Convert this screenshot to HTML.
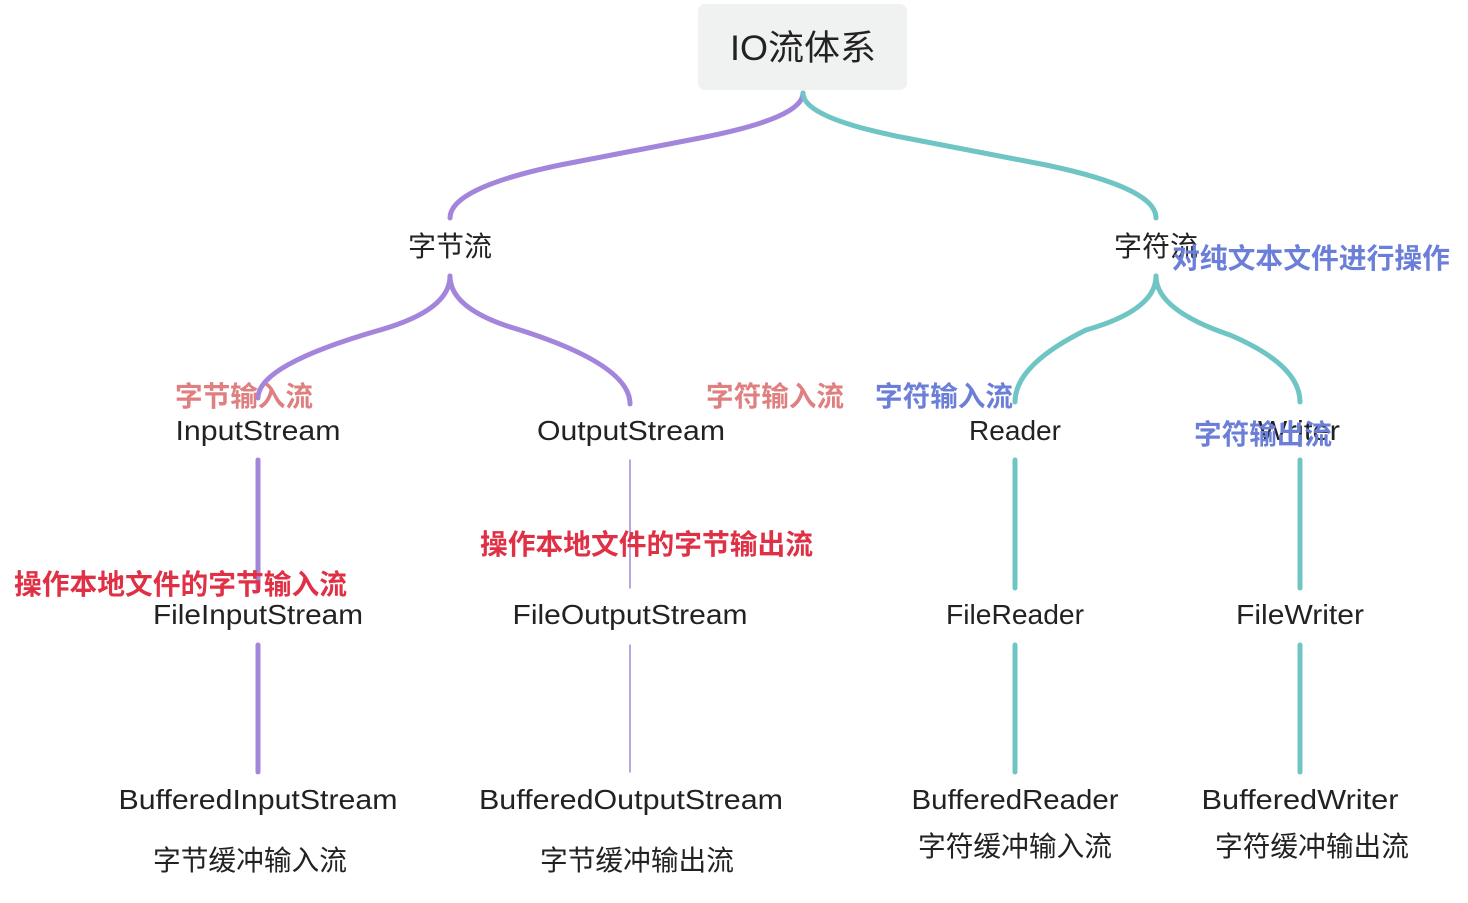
<!DOCTYPE html>
<html><head><meta charset="utf-8"><style>
body{margin:0;background:#fff;}
svg text{font-family:"Liberation Sans","Noto Sans CJK SC",sans-serif;}
</style></head><body>
<svg width="1468" height="898" xmlns="http://www.w3.org/2000/svg">
<rect x="698" y="4" width="209" height="86" rx="7" fill="#f0f1f1"/>
<text x="803" y="60" font-size="35" fill="#222" text-anchor="middle" textLength="146" lengthAdjust="spacingAndGlyphs">IO流体系</text>
<g fill="none" stroke-linecap="round">
<path d="M803,93 Q803,118 700,138 L560,165 Q450,188 450,218" stroke="#a386dc" stroke-width="5"/>
<path d="M803,93 Q803,118 906,138 L1046,165 Q1156,188 1156,218" stroke="#6fc4c4" stroke-width="5"/>
<path d="M450,276 Q450,310 380,330 Q258,365 258,398" stroke="#a386dc" stroke-width="5"/>
<path d="M450,276 Q450,310 520,330 Q630,365 630,404" stroke="#a386dc" stroke-width="5"/>
<path d="M1156,276 Q1156,310 1086,330 Q1015,365 1015,402" stroke="#6fc4c4" stroke-width="5"/>
<path d="M1156,276 Q1156,310 1230,335 Q1300,365 1300,402" stroke="#6fc4c4" stroke-width="5"/>
<line x1="258" y1="460" x2="258" y2="588" stroke="#a386dc" stroke-width="5"/>
<line x1="258" y1="645" x2="258" y2="772" stroke="#a386dc" stroke-width="5"/>
<line x1="630" y1="460" x2="630" y2="588" stroke="#a386dc" stroke-width="1.5"/>
<line x1="630" y1="645" x2="630" y2="772" stroke="#a386dc" stroke-width="1.5"/>
<line x1="1015" y1="460" x2="1015" y2="588" stroke="#6fc4c4" stroke-width="5"/>
<line x1="1015" y1="645" x2="1015" y2="772" stroke="#6fc4c4" stroke-width="5"/>
<line x1="1300" y1="460" x2="1300" y2="588" stroke="#6fc4c4" stroke-width="5"/>
<line x1="1300" y1="645" x2="1300" y2="772" stroke="#6fc4c4" stroke-width="5"/>
</g>
<g font-size="28" fill="#222" text-anchor="middle" lengthAdjust="spacingAndGlyphs">
<text x="450" y="256" textLength="84" lengthAdjust="spacingAndGlyphs">字节流</text>
<text x="1156" y="256" textLength="84" lengthAdjust="spacingAndGlyphs">字符流</text>
<text x="258" y="440" textLength="165" lengthAdjust="spacingAndGlyphs">InputStream</text>
<text x="631" y="440" textLength="188" lengthAdjust="spacingAndGlyphs">OutputStream</text>
<text x="1015" y="440" textLength="92" lengthAdjust="spacingAndGlyphs">Reader</text>
<text x="1299" y="440" textLength="82" lengthAdjust="spacingAndGlyphs">Writer</text>
<text x="258" y="624" textLength="210" lengthAdjust="spacingAndGlyphs">FileInputStream</text>
<text x="630" y="624" textLength="235" lengthAdjust="spacingAndGlyphs">FileOutputStream</text>
<text x="1015" y="624" textLength="138" lengthAdjust="spacingAndGlyphs">FileReader</text>
<text x="1300" y="624" textLength="128" lengthAdjust="spacingAndGlyphs">FileWriter</text>
<text x="258" y="809" textLength="279" lengthAdjust="spacingAndGlyphs">BufferedInputStream</text>
<text x="631" y="809" textLength="304" lengthAdjust="spacingAndGlyphs">BufferedOutputStream</text>
<text x="1015" y="809" textLength="207" lengthAdjust="spacingAndGlyphs">BufferedReader</text>
<text x="1300" y="809" textLength="197" lengthAdjust="spacingAndGlyphs">BufferedWriter</text>
<text x="250" y="870" textLength="194" lengthAdjust="spacingAndGlyphs">字节缓冲输入流</text>
<text x="637" y="870" textLength="194" lengthAdjust="spacingAndGlyphs">字节缓冲输出流</text>
<text x="1015" y="856" textLength="194" lengthAdjust="spacingAndGlyphs">字符缓冲输入流</text>
<text x="1312" y="856" textLength="194" lengthAdjust="spacingAndGlyphs">字符缓冲输出流</text>
</g>
<g font-size="28" font-weight="bold">
<text x="175" y="406" fill="#e07f7f" textLength="138" lengthAdjust="spacingAndGlyphs">字节输入流</text>
<text x="706" y="406" fill="#e07f7f" textLength="138" lengthAdjust="spacingAndGlyphs">字符输入流</text>
<text x="875" y="406" fill="#6b7fd8" textLength="138" lengthAdjust="spacingAndGlyphs">字符输入流</text>
<text x="1194" y="444" fill="#6b7fd8" textLength="138" lengthAdjust="spacingAndGlyphs">字符输出流</text>
<text x="1172" y="268" fill="#6b7fd8" textLength="278" lengthAdjust="spacingAndGlyphs">对纯文本文件进行操作</text>
<text x="14" y="594" fill="#e03045" textLength="333" lengthAdjust="spacingAndGlyphs">操作本地文件的字节输入流</text>
<text x="480" y="554" fill="#e03045" textLength="333" lengthAdjust="spacingAndGlyphs">操作本地文件的字节输出流</text>
</g>
</svg>
</body></html>
